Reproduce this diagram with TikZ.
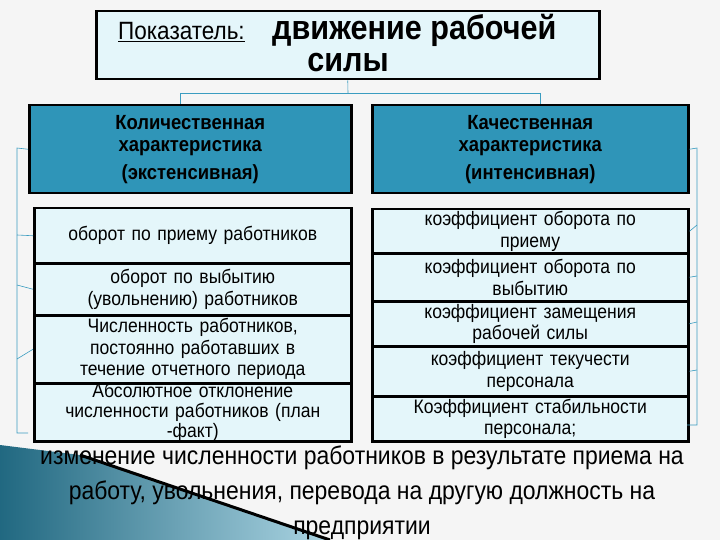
\documentclass[tikz,border=0pt]{standalone}
\usepackage{fontspec}
\setmainfont{Liberation Sans}[FakeStretch=0.9]
\definecolor{boxfill}{HTML}{E4F6FA}
\definecolor{headfill}{HTML}{2F95B8}
\definecolor{linec}{HTML}{3A9CC0}
\tikzset{
  box/.style={draw=black,line width=2.5pt,fill=boxfill,anchor=north west,inner sep=0pt,align=center,font=\fontsize{19.5}{21.5}\selectfont},
  head/.style={box,fill=headfill,font=\fontsize{20.5}{22}\selectfont\bfseries},
  conn/.style={draw=linec,line width=0.6pt}
}
\begin{document}
\begin{tikzpicture}[x=1pt,y=-1pt]
\fill[black!4] (0,0) rectangle (720,540);
\useasboundingbox (0,0) rectangle (720,540);
% swoosh
\shade[left color=headfill!70!black,right color=headfill!40] (0,445) -- (80,455) -- (330,540) -- (0,540) -- cycle;
\draw[line width=3pt] (80,455) -- (330,540);
% title
\node[box,minimum width=503pt,minimum height=68pt] (top) at (95,10) {};
\node[anchor=base west,font=\fontsize{25}{25}\selectfont,inner sep=0pt] (pl) at (118,40) {\underline{Показатель:}};
\node[anchor=base west,font=\fontsize{34}{34}\selectfont\bfseries,inner sep=0pt] (dv) at (272,40) {движение рабочей};
\node[anchor=base,font=\fontsize{34}{34}\selectfont\bfseries,inner sep=0pt] (sl) at (348,72) {силы};
% headers
\node[head,minimum width=322pt,minimum height=88pt,text width=300pt] (h1) at (28,104) {Количественная\\характеристика\\[6pt](экстенсивная)};
\node[head,minimum width=316pt,minimum height=88pt,text width=300pt] (h2) at (371,104) {Качественная\\характеристика\\[6pt](интенсивная)};
\coordinate (j) at (348,93);
\draw[conn] (top.south) -- (j);
\draw[conn] (180,93) -- (540,93);
\draw[conn] (180,93) -- (180,104);
\draw[conn] (540,93) -- (540,104);
% left items
\node[box,minimum width=317pt,minimum height=55pt,text width=315pt] (l1) at (33,207) {оборот по приему работников};
\node[box,minimum width=317pt,minimum height=52pt,text width=315pt] (l2) at (33,262) {оборот по выбытию\\(увольнению) работников};
\node[box,minimum width=317pt,minimum height=68pt,text width=315pt] (l3) at (33,314) {Численность работников,\\постоянно работавших в\\течение отчетного периода};
\node[box,minimum width=317pt,minimum height=58pt,text width=315pt,font=\fontsize{19.5}{20}\selectfont] (l4) at (33,382) {Абсолютное отклонение\\численности работников (план\\-факт)};
% right items
\node[box,minimum width=316pt,minimum height=44pt,text width=314pt] (r1) at (371,208) {коэффициент оборота по\\приему};
\node[box,minimum width=316pt,minimum height=48pt,text width=314pt] (r2) at (371,252) {коэффициент оборота по\\выбытию};
\node[box,minimum width=316pt,minimum height=45pt,text width=314pt] (r3) at (371,300) {коэффициент замещения\\рабочей силы};
\node[box,minimum width=316pt,minimum height=50pt,text width=314pt] (r4) at (371,345) {коэффициент текучести\\персонала};
\node[box,minimum width=316pt,minimum height=45pt,text width=314pt] (r5) at (371,395) {Коэффициент стабильности\\персонала;};
% side brackets
\draw[conn] (h1.west) -- (17,148) -- (17,433) -- (28,433);
\draw[conn] (17,235) -- (l1.west);
\draw[conn] (17,285) -- (l2.west);
\draw[conn] (17,359) -- (l3.west);
\draw[conn] (h2.east) -- (697,148) -- (697,425) -- (687,425);
\draw[conn] (697,225) -- (r1.east);
\draw[conn] (697,276) -- (r2.east);
\draw[conn] (697,322) -- (r3.east);
\draw[conn] (697,370) -- (r4.east);
% bottom text
\node[align=center,font=\fontsize{25.5}{35}\selectfont,anchor=north,inner sep=0pt] (bt) at (362,446) {изменение численности работников в результате приема на\\работу, увольнения, перевода на другую должность на\\предприятии};
\end{tikzpicture}
\end{document}
